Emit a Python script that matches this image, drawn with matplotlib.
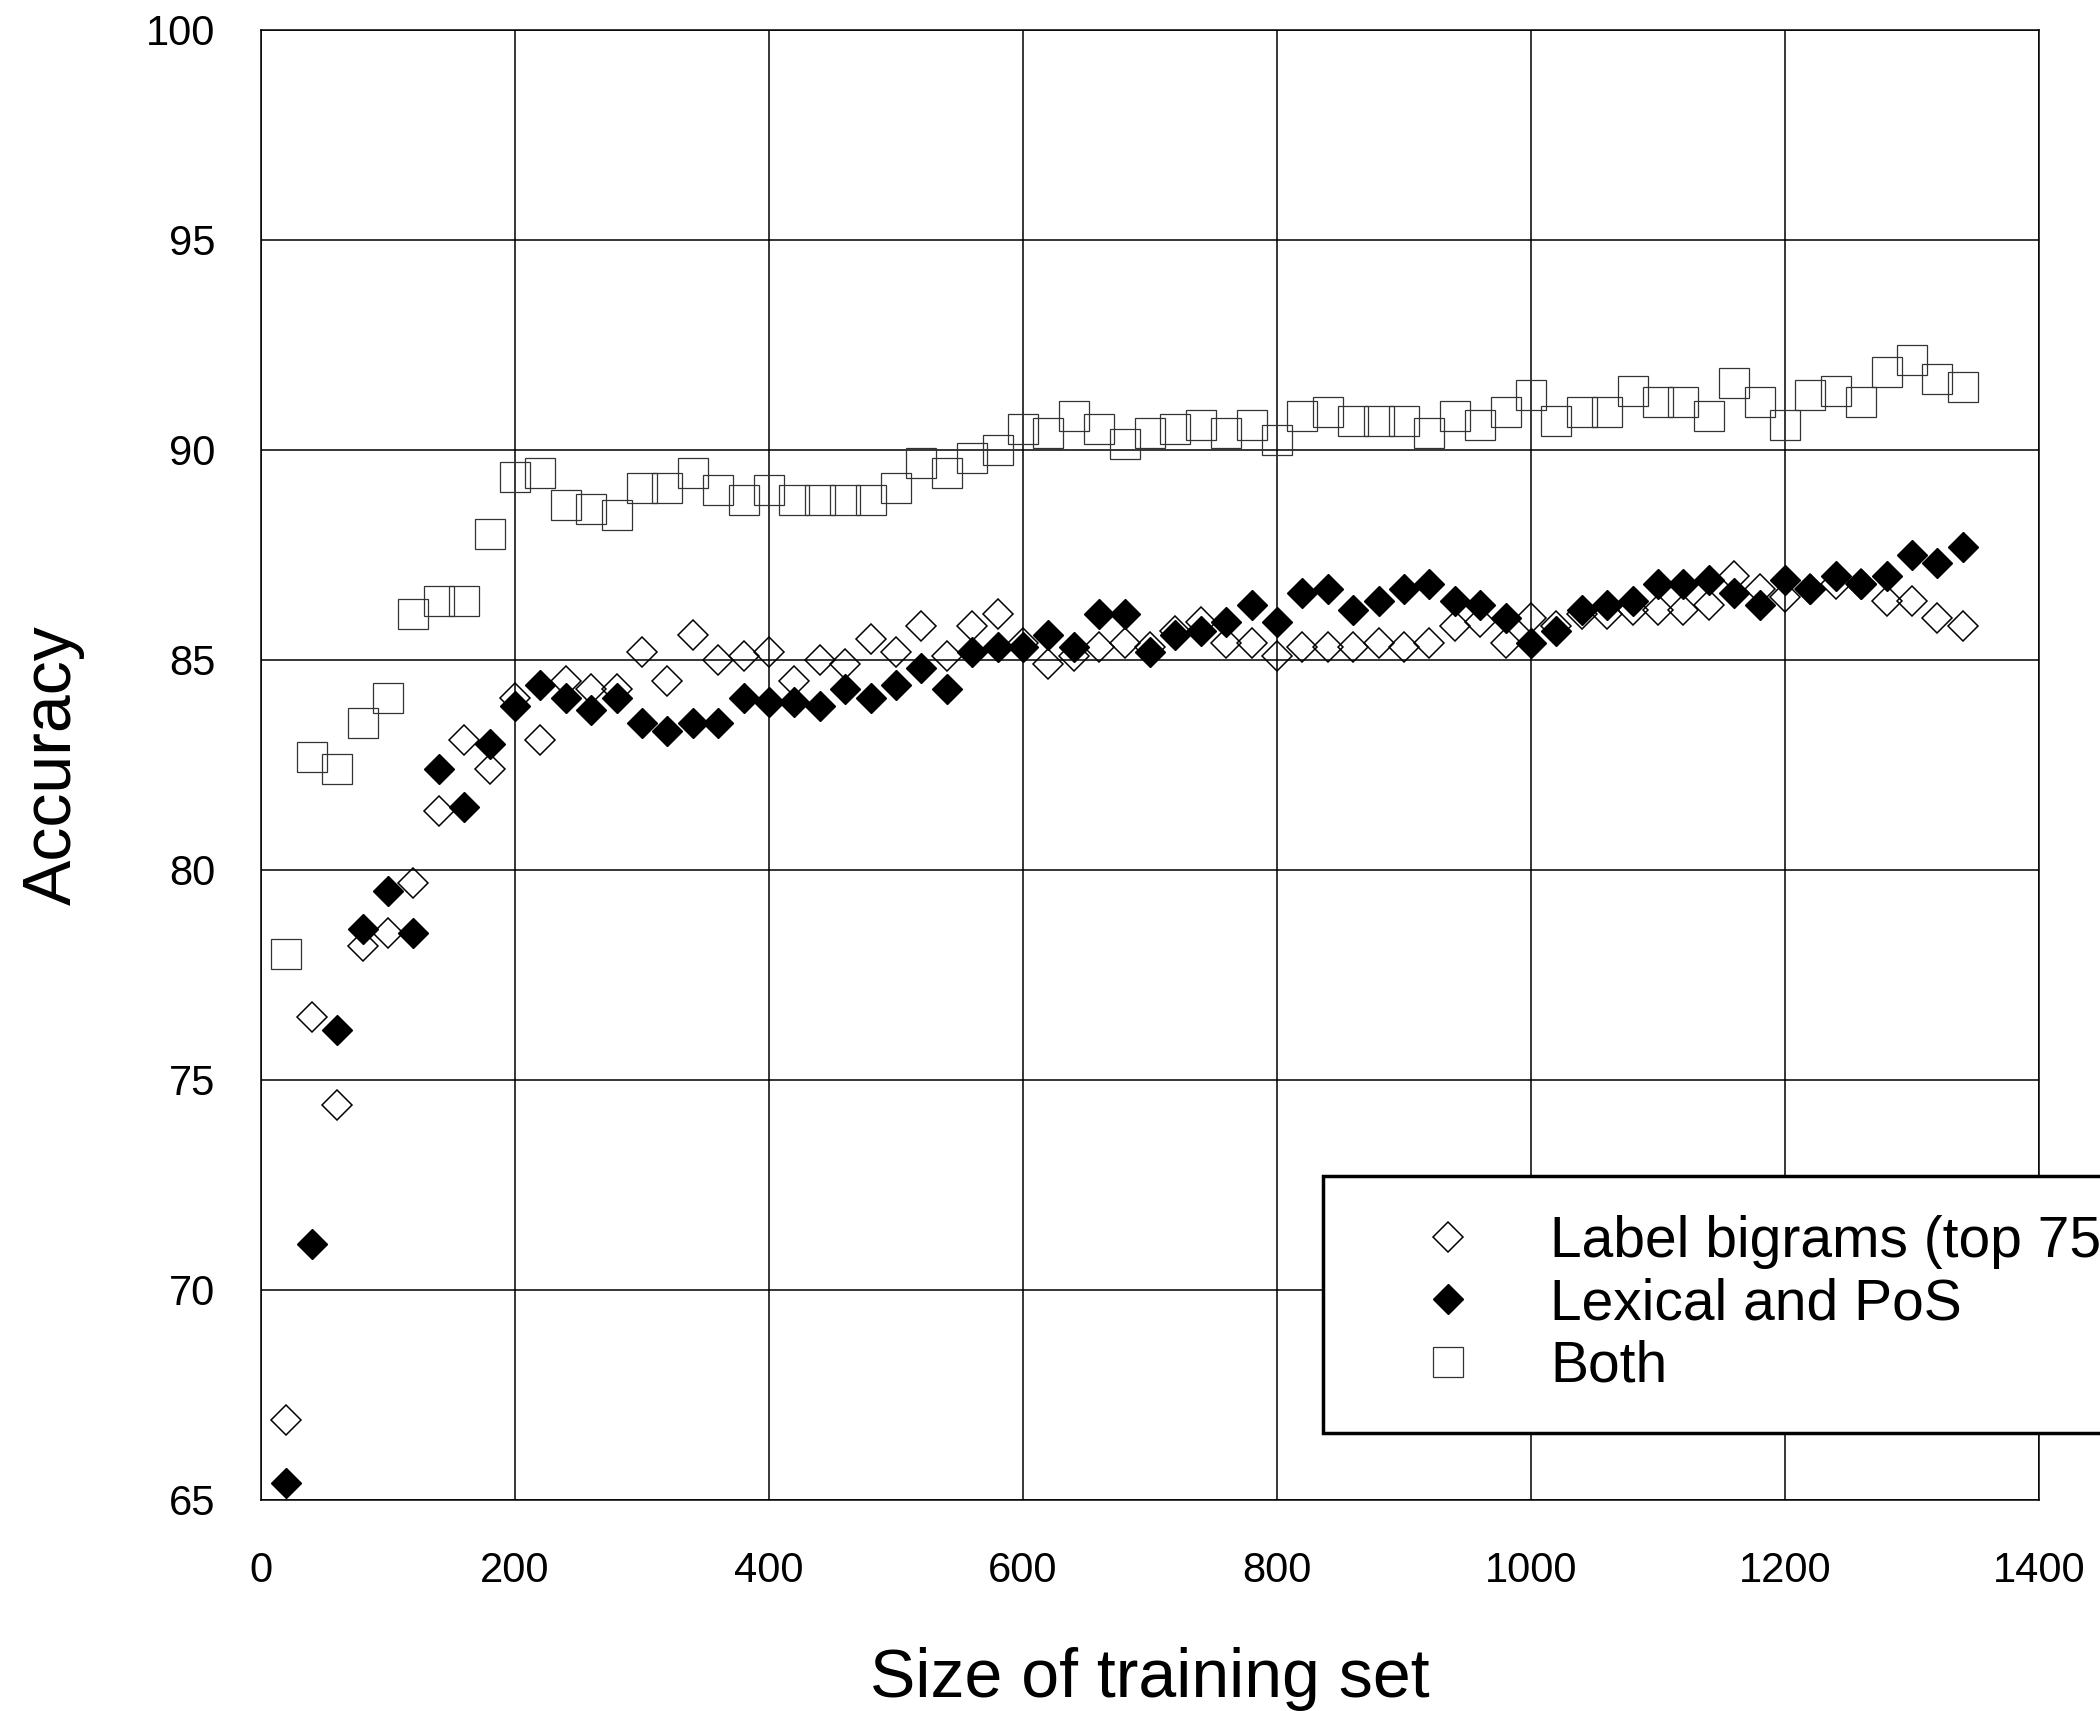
import matplotlib
matplotlib.use('Agg')
import matplotlib.pyplot as plt

plt.rcParams['font.family'] = ['Liberation Sans', 'DejaVu Sans']

# Training set sizes (x) and accuracy for each feature set.
trainSizes = [20, 40, 60, 80, 100, 120, 140, 160, 180, 200,
    220, 240, 260, 280, 300, 320, 340, 360, 380, 400,
    420, 440, 460, 480, 500, 520, 540, 560, 580, 600,
    620, 640, 660, 680, 700, 720, 740, 760, 780, 800,
    820, 840, 860, 880, 900, 920, 940, 960, 980, 1000,
    1020, 1040, 1060, 1080, 1100, 1120, 1140, 1160, 1180, 1200,
    1220, 1240, 1260, 1280, 1300, 1320, 1340]

accBigrams = [66.9, 76.5, 74.4, 78.2, 78.5, 79.7, 81.4, 83.1, 82.4, 84.1,
    83.1, 84.5, 84.3, 84.3, 85.2, 84.5, 85.6, 85.0, 85.1, 85.2,
    84.5, 85.0, 84.9, 85.5, 85.2, 85.8, 85.1, 85.8, 86.1, 85.4,
    84.9, 85.1, 85.3, 85.4, 85.3, 85.7, 85.9, 85.4, 85.4, 85.1,
    85.3, 85.3, 85.3, 85.4, 85.3, 85.4, 85.8, 85.9, 85.4, 86.0,
    85.8, 86.1, 86.1, 86.2, 86.2, 86.2, 86.3, 87.0, 86.7, 86.5,
    86.7, 86.8, 86.8, 86.4, 86.4, 86.0, 85.8]

accLexical = [65.4, 71.1, 76.2, 78.6, 79.5, 78.5, 82.4, 81.5, 83.0, 83.9,
    84.4, 84.1, 83.8, 84.1, 83.5, 83.3, 83.5, 83.5, 84.1, 84.0,
    84.0, 83.9, 84.3, 84.1, 84.4, 84.8, 84.3, 85.2, 85.3, 85.3,
    85.6, 85.3, 86.1, 86.1, 85.2, 85.6, 85.7, 85.9, 86.3, 85.9,
    86.6, 86.7, 86.2, 86.4, 86.7, 86.8, 86.4, 86.3, 86.0, 85.4,
    85.7, 86.2, 86.3, 86.4, 86.8, 86.8, 86.9, 86.6, 86.3, 86.9,
    86.7, 87.0, 86.8, 87.0, 87.5, 87.3, 87.7]

accBoth = [78.0, 82.7, 82.4, 83.5, 84.1, 86.1, 86.4, 86.4, 88.0, 89.35,
    89.45, 88.7, 88.6, 88.45, 89.1, 89.1, 89.45, 89.05, 88.8, 89.05,
    88.8, 88.8, 88.8, 88.8, 89.1, 89.7, 89.45, 89.8, 90.0, 90.5,
    90.4, 90.8, 90.5, 90.15, 90.4, 90.5, 90.6, 90.4, 90.6, 90.25,
    90.8, 90.9, 90.7, 90.7, 90.7, 90.4, 90.8, 90.6, 90.9, 91.3,
    90.7, 90.9, 90.9, 91.4, 91.15, 91.15, 90.8, 91.6, 91.15, 90.6,
    91.3, 91.4, 91.15, 91.85, 92.15, 91.7, 91.5]

seriesLabels = ['Label bigrams (top 75)', 'Lexical and PoS', 'Both']

xTicks = [0, 200, 400, 600, 800, 1000, 1200, 1400]
yTicks = [65, 70, 75, 80, 85, 90, 95, 100]

# Sizes.
tickSize = 30
labelSize = 49
legendSize = 41

figW, figH = 2100, 1711
fig = plt.figure(figsize=(figW/100, figH/100), dpi=100)
ax = fig.add_axes([261/figW, 1-1500/figH, (2039-261)/figW, (1500-30)/figH])

ax.plot(trainSizes, accBigrams, linestyle='none', marker='D', markersize=14.8,
    markerfacecolor='none', markeredgecolor='black', markeredgewidth=1.1,
    label=seriesLabels[0], zorder=3)
ax.plot(trainSizes, accLexical, linestyle='none', marker='D', markersize=14.8,
    markerfacecolor='black', markeredgecolor='black', markeredgewidth=1.0,
    label=seriesLabels[1], zorder=4)
ax.plot(trainSizes, accBoth, linestyle='none', marker='s', markersize=21,
    markerfacecolor='none', markeredgecolor='#333333', markeredgewidth=0.9,
    label=seriesLabels[2], zorder=5)

ax.set_xlim(0, 1400)
ax.set_ylim(65, 100)
ax.set_xticks(xTicks)
ax.set_yticks(yTicks)
ax.tick_params(length=0, labelsize=tickSize)
ax.tick_params(axis='x', pad=37)
ax.tick_params(axis='y', pad=33)
ax.grid(True, color='black', linewidth=1.1)
ax.set_axisbelow(True)
for spine in ax.spines.values():
    spine.set_linewidth(1.1)
    spine.set_color('black')

ax.set_xlabel('Size of training set', fontsize=labelSize, labelpad=40)
ax.set_ylabel('Accuracy', fontsize=labelSize, labelpad=44)

# Legend box runs past the right edge of the figure, as in the original.
leg = ax.legend(loc='upper left', bbox_to_anchor=(1323/figW, 1-1176/figH),
    bbox_transform=fig.transFigure, fontsize=legendSize, frameon=True,
    fancybox=False, framealpha=1, edgecolor='black', borderpad=0.68,
    handlelength=3.04, handletextpad=0.27, labelspacing=0.15, borderaxespad=0)
leg.get_frame().set_linewidth(2.5)
leg.set_zorder(10)

fig.savefig('out.png', dpi=100)
